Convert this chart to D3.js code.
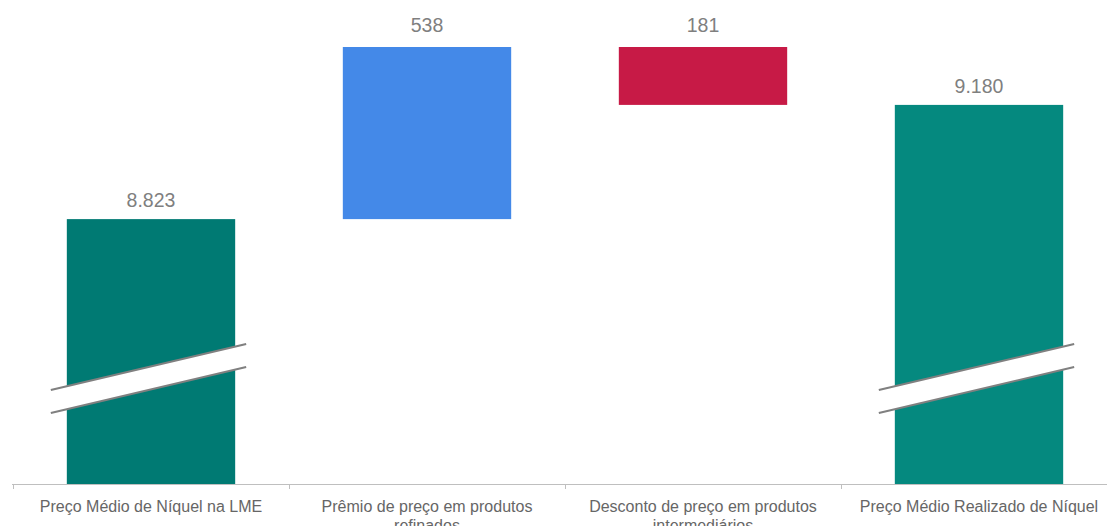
<!DOCTYPE html>
<html>
<head>
<meta charset="utf-8">
<script src="https://cdn.jsdelivr.net/npm/d3@7/dist/d3.min.js"></script>
<style>
  html, body { margin: 0; padding: 0; background: #ffffff; }
  svg { display: block; font-family: "Liberation Sans", Arial, sans-serif; }
</style>
</head>
<body>
<svg id="chart" width="1107" height="526"></svg>
<script>
// Waterfall: LME nickel price to realized nickel price (US$/t)
const categories = [
  "Preço Médio de Níquel na LME",
  "Prêmio de preço em produtos refinados",
  "Desconto de preço em produtos intermediários",
  "Preço Médio Realizado de Níquel"
];
const values = [8823, 538, -181, 9180];
const kinds = ["total", "increase", "decrease", "total"];
const valueLabels = ["8.823", "538", "181", "9.180"];
const colors = { total0: "#007a73", total3: "#05897f", increase: "#4489e8", decrease: "#c71a46" };

// Vertical axis floor (axis is broken, so totals start here)
const axisFloor = 7995;

const W = 1107, H = 526;
const baseY = 484, topY = 47;

// Build waterfall segments
let running = 0;
const segs = values.map((v, i) => {
  let y0, y1;
  if (kinds[i] === "total") { y0 = axisFloor; y1 = v; running = v; }
  else { y0 = running; y1 = running + v; running = y1; }
  return { cat: categories[i], kind: kinds[i], lo: Math.min(y0, y1), hi: Math.max(y0, y1), label: valueLabels[i], i };
});

const maxVal = d3.max(segs, d => d.hi);

const svg = d3.select("#chart");

const x = d3.scaleBand()
  .domain(categories)
  .range([13, 1117])
  .paddingInner(0.39)
  .paddingOuter(0.195);

const y = d3.scaleLinear()
  .domain([axisFloor, maxVal])
  .range([baseY, topY]);

const step = x.step();
const bw = x.bandwidth();

// Bars
svg.append("g").selectAll("rect")
  .data(segs)
  .join("rect")
  .attr("x", d => x(d.cat))
  .attr("y", d => y(d.hi))
  .attr("width", bw)
  .attr("height", d => y(d.lo) - y(d.hi))
  .attr("fill", d => d.kind === "total" ? (d.i === 0 ? colors.total0 : colors.total3) : colors[d.kind]);

// Axis break markers on the total bars
const breaks = svg.append("g");
segs.filter(d => d.kind === "total").forEach(d => {
  const x0 = x(d.cat) - 16, x1 = x(d.cat) + bw + 11;
  const yA0 = baseY - 94, yA1 = baseY - 140, gap = 23;
  breaks.append("polygon")
    .attr("points", [[x0, yA0], [x1, yA1], [x1, yA1 + gap], [x0, yA0 + gap]].map(p => p.join(",")).join(" "))
    .attr("fill", "#ffffff");
  [0, gap].forEach(o => {
    breaks.append("line")
      .attr("x1", x0).attr("y1", yA0 + o)
      .attr("x2", x1).attr("y2", yA1 + o)
      .attr("stroke", "#808080")
      .attr("stroke-width", 2);
  });
});

// Value labels
svg.append("g").selectAll("text")
  .data(segs)
  .join("text")
  .attr("x", d => x(d.cat) + bw / 2)
  .attr("y", d => y(d.hi) - (d.kind === "total" ? 12 : 15))
  .attr("text-anchor", "middle")
  .attr("fill", "#7f7f7f")
  .attr("font-size", "19.5px")
  .text(d => d.label);

// Category axis
const axis = svg.append("g");
axis.append("line")
  .attr("x1", 12).attr("x2", W)
  .attr("y1", baseY + 0.5).attr("y2", baseY + 0.5)
  .attr("stroke", "#bfbfbf").attr("stroke-width", 1);

const bounds = categories.map(c => x(c) - step * x.paddingInner() / 2).concat([x(categories[categories.length - 1]) + bw + step * x.paddingInner() / 2]);
axis.selectAll("line.tick")
  .data(bounds)
  .join("line")
  .attr("class", "tick")
  .attr("x1", d => Math.round(d) + 0.5).attr("x2", d => Math.round(d) + 0.5)
  .attr("y1", baseY).attr("y2", baseY + 5)
  .attr("stroke", "#bfbfbf").attr("stroke-width", 1);

const labels = axis.selectAll("text.cat")
  .data(categories)
  .join("text")
  .attr("class", "cat")
  .attr("x", d => x(d) + bw / 2)
  .attr("y", 512)
  .attr("text-anchor", "middle")
  .attr("fill", "#666666")
  .attr("font-size", "16px");

// Wrap category labels to fit the category width
const maxW = 255;
labels.each(function(d) {
  const t = d3.select(this);
  const words = d.split(" ");
  let line = [];
  let lineNo = 0;
  let tspan = t.append("tspan").attr("x", t.attr("x")).attr("dy", 0);
  words.forEach(w => {
    line.push(w);
    tspan.text(line.join(" "));
    if (tspan.node().getComputedTextLength() > maxW && line.length > 1) {
      line.pop();
      tspan.text(line.join(" "));
      line = [w];
      lineNo++;
      tspan = t.append("tspan").attr("x", t.attr("x")).attr("dy", "19px").text(w);
    }
  });
});
</script>
</body>
</html>
